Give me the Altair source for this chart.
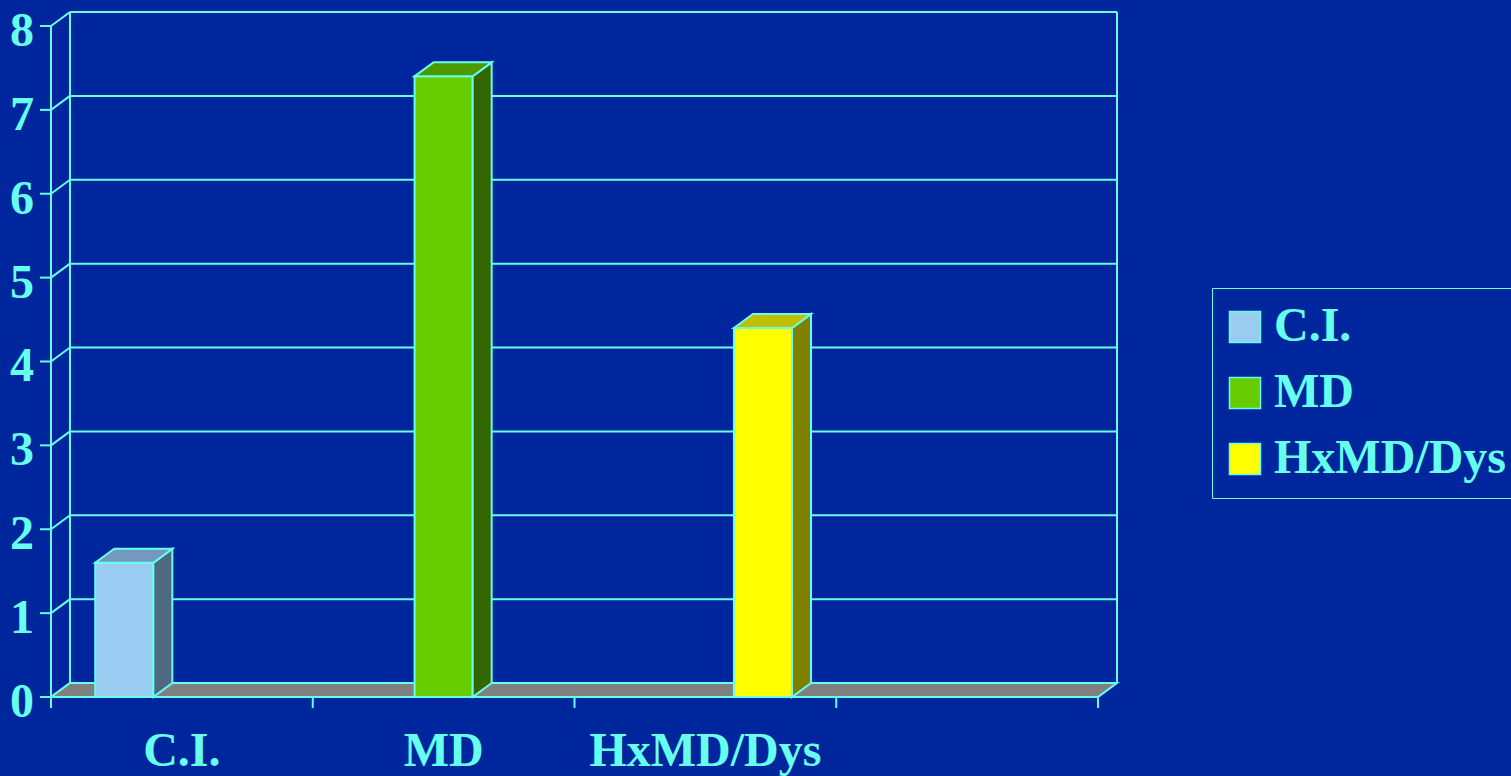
import altair as alt
import pandas as pd

# ---------------- data ----------------
SERIES = ["C.I.", "MD", "HxMD/Dys"]
VALUES = [1.6, 7.4, 4.4]
CATEGORIES = ["C.I.", "MD", "HxMD/Dys", ""]
Y_TICKS = [0, 1, 2, 3, 4, 5, 6, 7, 8]

# ---------------- style ----------------
FRONT_COLORS = ["#99CCF0", "#66CC00", "#FFFF00"]
SIDE_COLORS = ["#4D6A80", "#336600", "#808000"]
TOP_COLORS = ["#7399BF", "#4D9900", "#BFBF00"]
BG = "#00269E"
CYAN = "#66FFEE"
FLOOR = "#808080"
FONT = "Liberation Serif"
FS = 48
LW = 2

DX = 0.0725      # 3-D depth along x (category units)
DY = 0.1667      # 3-D depth along y (value units)
TICK_Y = 0.13    # x tick length (value units)
TICK_X = 0.042   # y tick length (category units)
BAR_STEP = 1.22  # spacing of the bars (category units)
BAR_W = 0.222    # bar width (category units)

N_SLOTS = len(CATEGORIES)
Y_TOP = max(Y_TICKS)
X_MAX = N_SLOTS + DX
Y_MAX = Y_TOP + DY

xs = alt.Scale(domain=[0, X_MAX], nice=False, zero=False)
ys = alt.Scale(domain=[0, Y_MAX], nice=False, zero=False)

# ---------------- tables ----------------
n = len(SERIES)
mid = n / 2
centers = [mid + (i - (n - 1) / 2) * BAR_STEP for i in range(n)]
bars = pd.DataFrame({
    "series": SERIES,
    "value": VALUES,
    "L": [c - BAR_W / 2 for c in centers],
    "R": [c + BAR_W / 2 for c in centers],
    "zero": [0] * n,
})

side_rows, top_rows = [], []
for i, r in bars.iterrows():
    for t in (0, 1):
        side_rows.append({"series": r.series, "side": SIDE_COLORS[i],
                          "x": r.R + t * DX, "y": t * DY, "y2": r.value + t * DY})
        top_rows.append({"series": r.series, "top": TOP_COLORS[i],
                         "y": r.value + t * DY, "x": r.L + t * DX, "x2": r.R + t * DX})
side_df = pd.DataFrame(side_rows)
top_df = pd.DataFrame(top_rows)

grid_df = pd.DataFrame({"k": Y_TICKS})
grid_df["kb"] = grid_df["k"] + DY
grid_df["x0"] = 0.0
grid_df["xd"] = DX
grid_df["xe"] = X_MAX
grid_df["xt"] = -TICK_X
grid_df["label"] = [str(k) for k in Y_TICKS]

walls_df = pd.DataFrame({"x": [DX, X_MAX], "y0": [DY, DY], "y1": [Y_MAX, Y_MAX]})

floor_df = pd.DataFrame({"t": [0, 1]})
floor_df["y"] = floor_df["t"] * DY
floor_df["x"] = floor_df["t"] * DX
floor_df["x2"] = N_SLOTS + floor_df["t"] * DX

xticks_df = pd.DataFrame({"x": list(range(N_SLOTS + 1))})
xticks_df["a"] = -TICK_Y
xticks_df["b"] = 0.0

front_axis_df = pd.DataFrame({"x0": [0.0], "x1": [float(N_SLOTS)], "ya": [-TICK_Y],
                              "yb": [float(Y_TOP)], "y0": [0.0]})

cat_df = pd.DataFrame({"x": [i + 0.5 for i in range(N_SLOTS)], "y": 0.0,
                       "label": CATEGORIES})

# ---------------- layers ----------------
def X(f):
    return alt.X(f, scale=xs, axis=None)


def Y(f):
    return alt.Y(f, scale=ys, axis=None)


grid = alt.Chart(grid_df).mark_rule(color=CYAN, strokeWidth=LW).encode(
    x=X("xd:Q"), x2="xe:Q", y=Y("kb:Q"))

diag = alt.Chart(grid_df).mark_rule(color=CYAN, strokeWidth=LW).encode(
    x=X("x0:Q"), x2="xd:Q", y=Y("k:Q"), y2="kb:Q")

yticks = alt.Chart(grid_df).mark_rule(color=CYAN, strokeWidth=LW).encode(
    x=X("xt:Q"), x2="x0:Q", y=Y("k:Q"))

ylabels = alt.Chart(grid_df).mark_text(
    font=FONT, fontSize=FS, fontWeight="bold", color=CYAN,
    align="right", baseline="alphabetic", dx=-17, dy=20
).encode(x=X("x0:Q"), y=Y("k:Q"), text="label:N")

walls = alt.Chart(walls_df).mark_rule(color=CYAN, strokeWidth=LW).encode(
    x=X("x:Q"), y=Y("y0:Q"), y2="y1:Q")

floor = alt.Chart(floor_df).mark_area(
    fill=FLOOR, stroke=CYAN, strokeWidth=LW, orient="horizontal"
).encode(y=Y("y:Q"), x=X("x:Q"), x2="x2:Q")

front = alt.Chart(bars).mark_bar(stroke=CYAN, strokeWidth=LW, opacity=1).encode(
    x=X("L:Q"),
    x2="R:Q",
    y=Y("zero:Q"),
    y2="value:Q",
    color=alt.Color("series:N",
                    scale=alt.Scale(domain=SERIES, range=FRONT_COLORS),
                    legend=alt.Legend(
                        title=None, orient="none", legendX=1161, legendY=276,
                        direction="vertical", symbolType="square", symbolSize=961,
                        symbolStrokeColor=CYAN, symbolStrokeWidth=1.5,
                        symbolOpacity=1, symbolOffset=-6,
                        labelFont=FONT, labelFontSize=FS, labelFontWeight="bold",
                        labelColor=CYAN, labelLimit=500, labelOffset=5,
                        strokeColor=CYAN, fillColor=BG, padding=15, rowPadding=18)),
)

side = alt.Chart(side_df).mark_area(
    stroke=CYAN, strokeWidth=LW, orient="vertical", opacity=1
).encode(x=X("x:Q"), y=Y("y:Q"), y2="y2:Q", detail="series:N",
         color=alt.Color("side:N", scale=None))

top = alt.Chart(top_df).mark_area(
    stroke=CYAN, strokeWidth=LW, orient="horizontal", opacity=1
).encode(y=Y("y:Q"), x=X("x:Q"), x2="x2:Q", detail="series:N",
         color=alt.Color("top:N", scale=None))

yline = alt.Chart(front_axis_df).mark_rule(color=CYAN, strokeWidth=LW).encode(
    x=X("x0:Q"), y=Y("ya:Q"), y2="yb:Q")

xline = alt.Chart(front_axis_df).mark_rule(color=CYAN, strokeWidth=LW).encode(
    x=X("x0:Q"), x2="x1:Q", y=Y("y0:Q"))

xticks = alt.Chart(xticks_df).mark_rule(color=CYAN, strokeWidth=LW).encode(
    x=X("x:Q"), y=Y("a:Q"), y2="b:Q")

xlabels = alt.Chart(cat_df).mark_text(
    font=FONT, fontSize=FS, fontWeight="bold", color=CYAN,
    align="center", baseline="alphabetic", dy=69
).encode(x=X("x:Q"), y=Y("y:Q"), text="label:N")

chart = alt.layer(
    grid, diag, walls, floor, front, side, top, yline, xline, xticks, yticks,
    ylabels, xlabels
).properties(
    width=1066,
    height=685,
    background=BG,
    padding={"left": 51, "top": 12, "right": 394, "bottom": 79},
    autosize=alt.AutoSizeParams(type="none"),
).configure_view(strokeWidth=0)

chart.save("out.html", embed_options={"renderer": "svg", "actions": False})
